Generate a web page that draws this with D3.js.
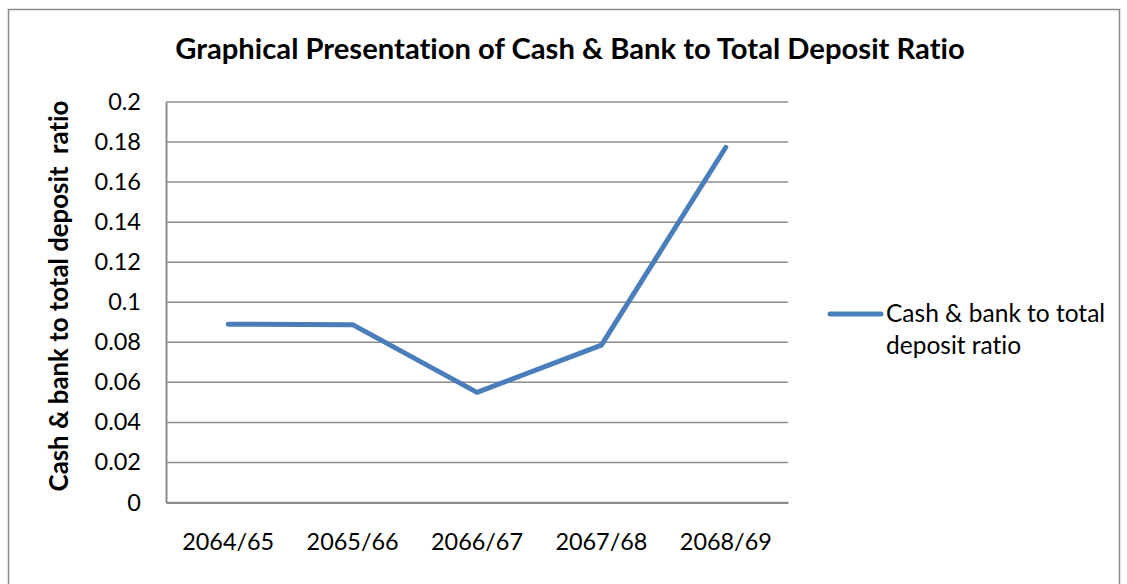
<!DOCTYPE html>
<html>
<head>
<meta charset="utf-8">
<script src="https://cdn.jsdelivr.net/npm/d3@7"></script>
<style>
  html, body { margin: 0; padding: 0; background: #fff; }
  svg { display: block; }
  text { font-family: Lato, "Open Sans", sans-serif; fill: #000; font-variant-ligatures: none; }
</style>
</head>
<body>
<svg id="chart" width="1127" height="584"></svg>
<script>
// Cash & bank to total deposit ratio by fiscal year
const categories = ["2064/65", "2065/66", "2066/67", "2067/68", "2068/69"];
const ratios = [0.089, 0.0888, 0.055, 0.0786, 0.1774];
const yTicks = [0, 0.02, 0.04, 0.06, 0.08, 0.1, 0.12, 0.14, 0.16, 0.18, 0.2];
const seriesName = ["Cash & bank to total", "deposit ratio"];

const svg = d3.select("#chart");
const plot = { left: 166, right: 788, top: 102, bottom: 502.5 };

// outer frame
svg.append("rect")
  .attr("x", 8.5).attr("y", 9.5)
  .attr("width", 1111).attr("height", 580)
  .attr("fill", "#fff").attr("stroke", "#8a8a8a").attr("stroke-width", 1.5);

const x = d3.scaleBand().domain(categories).range([plot.left, plot.right]);
const y = d3.scaleLinear().domain([0, 0.2]).range([plot.bottom, plot.top]);

// horizontal gridlines
svg.append("g")
  .selectAll("line")
  .data(yTicks)
  .join("line")
  .attr("x1", plot.left).attr("x2", plot.right)
  .attr("y1", d => y(d)).attr("y2", d => y(d))
  .attr("stroke", "#8c8c8c").attr("stroke-width", 1.5);

// y axis
const yAxis = svg.append("g")
  .attr("transform", `translate(${plot.left},0)`)
  .call(d3.axisLeft(y).tickValues(yTicks).tickSize(0).tickPadding(25)
    .tickFormat(d => d3.format("")(+d.toFixed(2))));
yAxis.select(".domain").attr("stroke", "#8c8c8c").attr("stroke-width", 2);
yAxis.selectAll("text").attr("font-size", 23.5).style("font-family", "Lato, sans-serif");

// x axis
const xAxis = svg.append("g")
  .attr("transform", `translate(0,${plot.bottom})`)
  .call(d3.axisBottom(x).tickSize(0).tickPadding(31));
xAxis.select(".domain").attr("stroke", "#8c8c8c").attr("stroke-width", 2);
xAxis.selectAll("text").attr("font-size", 23.4).style("font-family", "Lato, sans-serif");

// series line
const line = d3.line()
  .x((d, i) => x(categories[i]) + x.bandwidth() / 2)
  .y(d => y(d));
svg.append("path")
  .datum(ratios)
  .attr("d", line)
  .attr("fill", "none")
  .attr("stroke", "#4a7ebb")
  .attr("stroke-width", 5)
  .attr("stroke-linejoin", "round")
  .attr("stroke-linecap", "round");

// title
svg.append("text")
  .attr("x", 570).attr("y", 59)
  .attr("text-anchor", "middle")
  .attr("font-size", 29.2).attr("font-weight", "bold")
  .text("Graphical Presentation of Cash & Bank to Total Deposit Ratio");

// y axis title
svg.append("text")
  .attr("transform", "translate(68,296) rotate(-90)")
  .attr("text-anchor", "middle")
  .attr("font-size", 25.8).attr("font-weight", "bold")
  .attr("xml:space", "preserve")
  .style("white-space", "pre")
  .text("Cash & bank to total deposit  ratio");

// legend
const legend = svg.append("g");
legend.append("line")
  .attr("x1", 830).attr("x2", 881)
  .attr("y1", 314).attr("y2", 314)
  .attr("stroke", "#4a7ebb").attr("stroke-width", 5)
  .attr("stroke-linecap", "round");
legend.selectAll("text.leg")
  .data(seriesName)
  .join("text")
  .attr("class", "leg")
  .attr("x", 886)
  .attr("y", (d, i) => 322 + i * 32)
  .attr("font-size", 24.5)
  .text(d => d);
</script>
</body>
</html>
